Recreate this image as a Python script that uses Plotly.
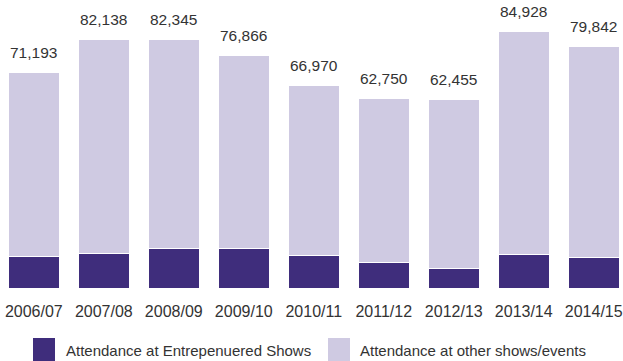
import plotly.graph_objects as go

years = ["2006/07", "2007/08", "2008/09", "2009/10", "2010/11",
         "2011/12", "2012/13", "2013/14", "2014/15"]
totals = [71193, 82138, 82345, 76866, 66970, 62750, 62455, 84928, 79842]
entrepreneured = [10400, 11350, 13000, 13150, 10700, 8500, 6400, 10950, 10200]
other = [t - e for t, e in zip(totals, entrepreneured)]

DARK = "#3f2d7c"
LIGHT = "#cfcae2"
TEXT = "#333333"
FONT = "Liberation Sans, Arial, sans-serif"

fig = go.Figure()
fig.add_trace(go.Bar(x=years, y=entrepreneured, marker=dict(color=DARK, line=dict(color="white", width=1)),
                     width=0.73, showlegend=False, hoverinfo="skip"))
fig.add_trace(go.Bar(x=years, y=other, marker=dict(color=LIGHT, line=dict(color="white", width=1)),
                     width=0.73, showlegend=False, hoverinfo="skip"))

for yr, t in zip(years, totals):
    fig.add_annotation(x=yr, y=t, text=f"{t:,}", showarrow=False, yanchor="middle",
                       yshift=20, font=dict(family=FONT, size=15.5, color=TEXT))

# Legend (drawn manually for large swatches)
legend = [("Attendance at Entrepenuered Shows", DARK, 33, 64),
          ("Attendance at other shows/events", LIGHT, 328, 358)]
for label, col, x0, tx in legend:
    fig.add_shape(type="rect", xref="paper", yref="paper",
                  x0=x0 / 623, x1=(x0 + 22) / 623,
                  y0=-(338 - 288) / 288, y1=-(361 - 288) / 288,
                  fillcolor=col, line=dict(width=0))
    fig.add_annotation(xref="paper", yref="paper", x=tx / 623, y=-(350 - 288) / 288,
                       xanchor="left", yanchor="middle", showarrow=False, text=label,
                       font=dict(family=FONT, size=15, color=TEXT))

fig.update_layout(
    barmode="stack",
    width=623, height=361,
    margin=dict(l=0, r=0, t=0, b=73),
    plot_bgcolor="white", paper_bgcolor="white",
    bargap=0.27,
    xaxis=dict(range=[-0.483, 8.418], showgrid=False, showline=False, zeroline=False,
               ticks="", ticklabelstandoff=12,
               tickfont=dict(family=FONT, size=16, color=TEXT)),
    yaxis=dict(range=[0, 95357], visible=False, showgrid=False),
)

fig.write_html("out.html")
